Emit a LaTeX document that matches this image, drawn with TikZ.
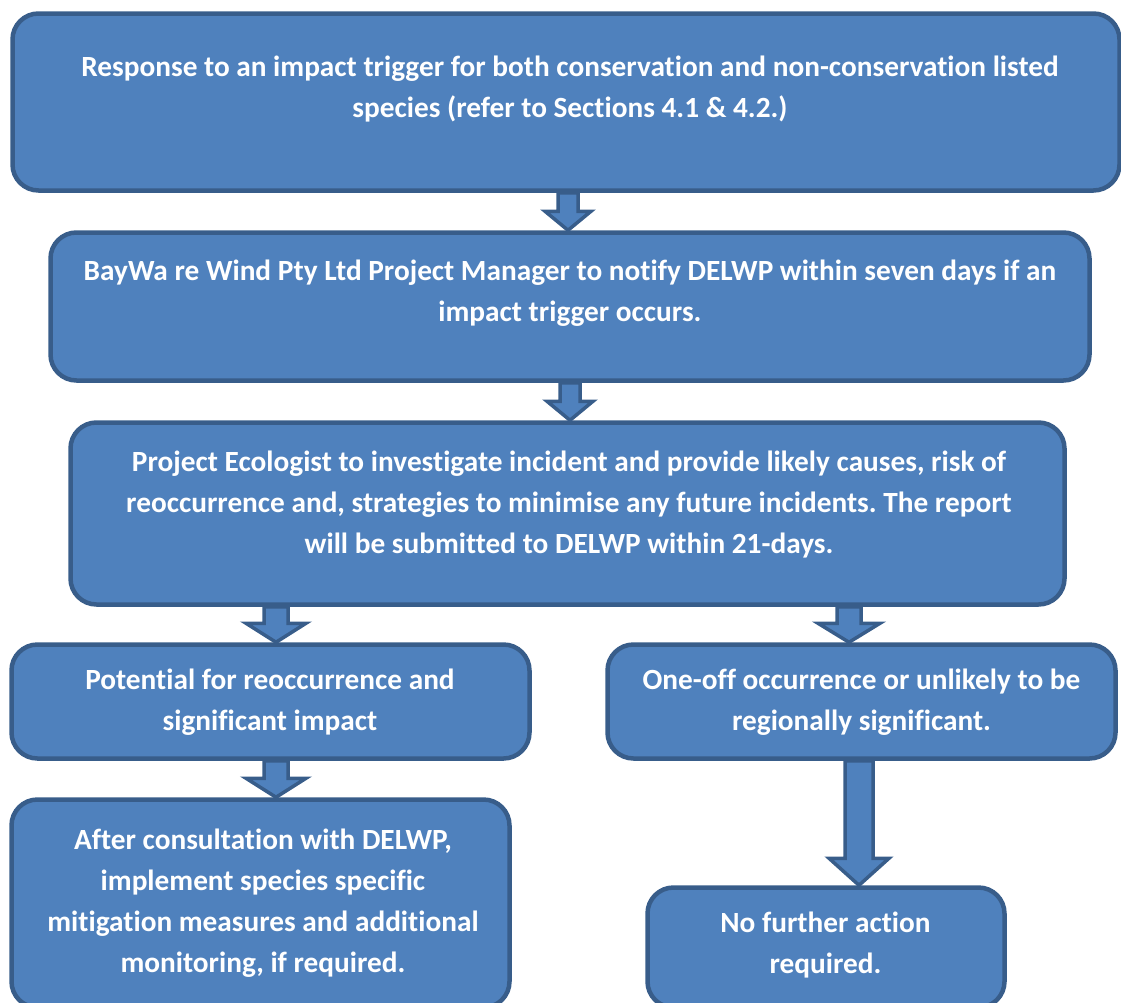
\documentclass[tikz,border=0pt]{standalone}
\usepackage{fontspec}
\setmainfont{Carlito}[RawFeature=-liga]
\usetikzlibrary{calc}
\frenchspacing

\definecolor{boxfill}{HTML}{4F81BD}
\definecolor{boxborder}{HTML}{385D8A}

% block arrow: x, from node, to node, shaft half width, head half width, head length
\newcommand\blockarrow[6]{%
  \draw[blockarr] let \p1=(#2.south), \p2=(#3.north) in
    ({#1pt-#4pt},\y1) -- ({#1pt-#4pt},{\y2+#6pt}) -- ({#1pt-#5pt},{\y2+#6pt})
    -- (#1pt,\y2) -- ({#1pt+#5pt},{\y2+#6pt}) -- ({#1pt+#4pt},{\y2+#6pt})
    -- ({#1pt+#4pt},\y1) -- cycle;}

\begin{document}
\begin{tikzpicture}[
    x=1pt, y=-1pt,
    stepbox/.style={rectangle, rounded corners=26pt, draw=boxborder,
                    line width=4.5pt, fill=boxfill, inner sep=0pt},
    boxtext/.style={font=\fontsize{29.3}{41}\selectfont\bfseries, text=white,
                    align=center, inner sep=0pt},
    blockarr/.style={draw=boxborder, line width=3.5pt, fill=boxfill,
                     line join=miter},
]
\useasboundingbox (0,0) rectangle (1121,1002);

% --- Boxes ---
\node[stepbox, minimum width=1107pt, minimum height=177pt] (trigger) at (566,102) {};
\node[stepbox, minimum width=1039pt, minimum height=148pt] (notify) at (570,306.5) {};
\node[stepbox, minimum width=994pt, minimum height=182pt] (ecol) at (567.5,513.5) {};
\node[stepbox, minimum width=518pt, minimum height=114pt] (reocc) at (270.5,701.5) {};
\node[stepbox, minimum width=508pt, minimum height=114pt] (oneoff) at (861.5,701.5) {};
\node[stepbox, minimum width=498pt, minimum height=208pt] (mitig) at (260.5,903.5) {};
\node[stepbox, minimum width=357pt, minimum height=120pt] (noaction) at (826,947.5) {};

% --- Box texts ---
\node[boxtext] (triggerT) at (570,89) {Response to an impact trigger for both conservation and non-conservation listed\\
  species (refer to Sections 4.1 \& 4.2.)};
\node[boxtext] (notifyT) at (570,293) {BayWa re Wind Pty Ltd Project Manager to notify DELWP within seven days if an\\
  impact trigger occurs.};
\node[boxtext] (ecolT) at (569,505) {Project Ecologist to investigate incident and provide likely causes, risk of\\
  reoccurrence and, strategies to minimise any future incidents. The report\\
  will be submitted to DELWP within 21-days.};
\node[boxtext] (reoccT) at (270,702) {Potential for reoccurrence and\\ significant impact};
\node[boxtext] (oneoffT) at (861.5,702) {One-off occurrence or unlikely to be\\ regionally significant.};
\node[boxtext] (mitigT) at (263,903) {After consultation with DELWP,\\ implement species specific\\
  mitigation measures and additional\\ monitoring, if required.};
\node[boxtext] (noactionT) at (825.5,945) {No further action\\ required.};

% --- Block arrows ---
\blockarrow{568}{trigger}{notify}{10}{23}{19}
\blockarrow{570}{notify}{ecol}{10}{23}{19}
\blockarrow{276}{ecol}{reocc}{12}{30}{19}
\blockarrow{849}{ecol}{oneoff}{12}{31}{19}
\blockarrow{276}{reocc}{mitig}{12}{30}{19}
\blockarrow{859}{oneoff}{noaction}{14}{30}{27}

\end{tikzpicture}
\end{document}
